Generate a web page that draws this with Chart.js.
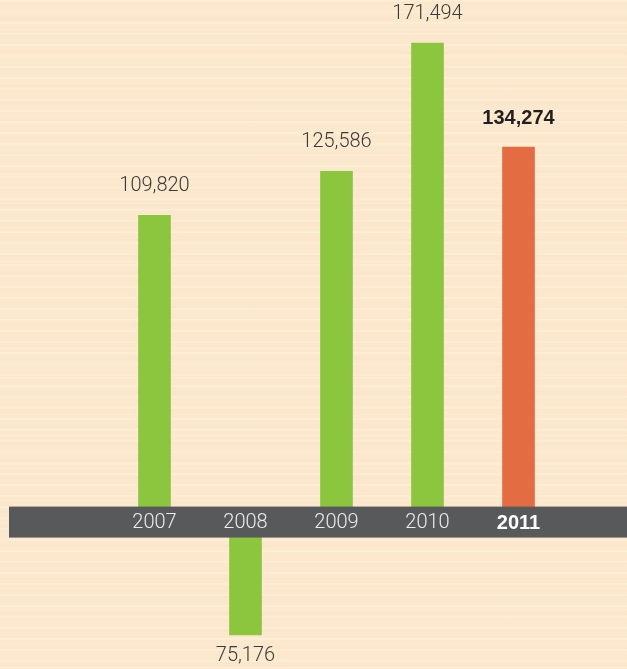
<!DOCTYPE html>
<html>
<head>
<meta charset="utf-8">
<script src="https://cdn.jsdelivr.net/npm/chart.js@4"></script>
<style>
  html, body { margin: 0; padding: 0; }
  body {
    width: 627px; height: 669px; overflow: hidden;
    background-color: #fbe8cd;
    background-image:
      repeating-linear-gradient(180deg, rgba(255,248,222,0.35) 0px, rgba(255,248,222,0.35) 2px, rgba(255,255,255,0) 2px, rgba(255,255,255,0) 11px),
      repeating-linear-gradient(180deg, rgba(250,226,200,0.3) 0px, rgba(250,226,200,0.3) 3px, rgba(255,255,255,0) 3px, rgba(255,255,255,0) 17px),
      repeating-linear-gradient(180deg, rgba(255,250,230,0.25) 0px, rgba(255,250,230,0.25) 1px, rgba(255,255,255,0) 1px, rgba(255,255,255,0) 29px);
  }
  #wrap { position: relative; width: 627px; height: 669px; }
</style>
</head>
<body>
<div id="wrap"><canvas id="chart"></canvas></div>
<script>
// --- DATA ---
const years = ['2007', '2008', '2009', '2010', '2011'];
const results = [109820, -75176, 125586, 171494, 134274];
const highlightYear = '2011';

const GREEN = '#8cc63f';
const ORANGE = '#e46c42';
const BAND = '#58595b';

// positive and negative bars sit on their own hidden axes (the negative side is drawn compressed in the original)
const gains = results.map(v => (v >= 0 ? v : null));
const losses = results.map(v => (v < 0 ? v : null));
const barColors = years.map(y => (y === highlightYear ? ORANGE : GREEN));

const fmt = n => Math.abs(n).toLocaleString('en-US');

const bandAndLabels = {
  id: 'bandAndLabels',
  afterDatasetsDraw(chart) {
    const ctx = chart.ctx;
    const zero = chart.scales.y.getPixelForValue(0);
    const xScale = chart.scales.x;

    // dark strip along the zero line
    ctx.save();
    ctx.fillStyle = BAND;
    ctx.fillRect(9, zero - 15.5, chart.width - 9, 31);

    ctx.textAlign = 'center';
    ctx.textBaseline = 'middle';

    // year labels inside the strip
    years.forEach((y, i) => {
      const x = xScale.getPixelForValue(i);
      const hi = y === highlightYear;
      ctx.fillStyle = hi ? '#ffffff' : '#ececec';
      ctx.font = hi ? 'bold 20px "Liberation Sans", Arial, sans-serif' : '300 20px Roboto, "Liberation Sans", sans-serif';
      ctx.fillText(y, x, zero + 1);
    });

    // value labels above / below each bar
    chart.data.datasets.forEach((ds, di) => {
      const meta = chart.getDatasetMeta(di);
      meta.data.forEach((bar, i) => {
        const v = ds.data[i];
        if (v === null) return;
        const hi = years[i] === highlightYear;
        ctx.fillStyle = hi ? '#231f20' : '#3a3a3a';
        ctx.font = hi ? 'bold 20px "Liberation Sans", Arial, sans-serif' : '300 20px Roboto, "Liberation Sans", sans-serif';
        const ty = v >= 0 ? bar.y - 29 : bar.y + 21;
        ctx.fillText(fmt(v), bar.x, ty);
      });
    });
    ctx.restore();
  }
};

new Chart(document.getElementById('chart'), {
  type: 'bar',
  data: {
    labels: years,
    datasets: [
      { data: gains, yAxisID: 'y', backgroundColor: barColors, barThickness: 32, grouped: false },
      { data: losses, yAxisID: 'y2', backgroundColor: barColors, barThickness: 32, grouped: false }
    ]
  },
  options: {
    responsive: true,
    maintainAspectRatio: false,
    animation: false,
    layout: { padding: { left: 109, right: 63, top: 0, bottom: 0 } },
    plugins: {
      legend: { display: false },
      tooltip: { enabled: false }
    },
    scales: {
      x: { display: false },
      y: { display: false, min: -52600, max: 186900 },
      y2: { display: false, min: -97800, max: 347300 }
    }
  },
  plugins: [bandAndLabels]
});
</script>
</body>
</html>
